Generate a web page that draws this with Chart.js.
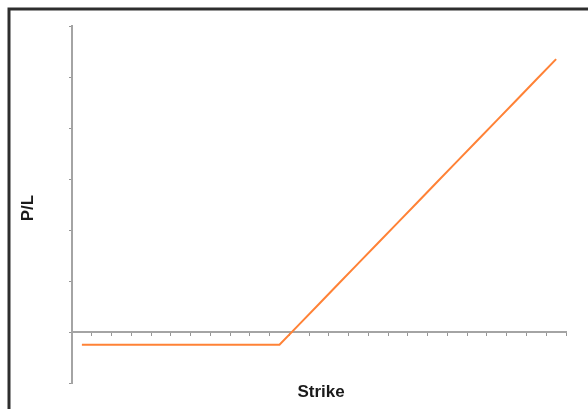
<!DOCTYPE html>
<html>
<head>
<meta charset="utf-8">
<script src="https://cdn.jsdelivr.net/npm/chart.js@4/dist/chart.umd.min.js"></script>
<style>
  html, body { margin: 0; padding: 0; background: #fff; }
  #wrap { position: relative; width: 588px; height: 409px; }
  canvas { display: block; }
</style>
</head>
<body>
<div id="wrap"><canvas id="c" width="588" height="409"></canvas></div>
<script>
// Strike categories (no tick labels are printed in the reference)
const strikes = [1, 2, 3, 4, 5, 6, 7, 8, 9, 10, 11, 12, 13, 14, 15, 16, 17, 18, 19, 20, 21, 22, 23, 24, 25];
// Profit / loss at each strike (long call payoff)
const profitLoss = [-1.25, -1.25, -1.25, -1.25, -1.25, -1.25, -1.25, -1.25, -1.25, -1.25, -1.25,
  0.75, 2.75, 4.75, 6.75, 8.75, 10.75, 12.75, 14.75, 16.75, 18.75, 20.75, 22.75, 24.75, 26.75];
// Value axis tick positions
const yTicks = [-5, 0, 5, 10, 15, 20, 25, 30];

const xTitle = 'Strike';
const yTitle = 'P/L';

const AXIS_COLOR = '#a4a4a4';
const TICK_COLOR = '#969696';
const LINE_COLOR = '#ff8236';
const TEXT_COLOR = '#1a1a1a';
const TITLE_FONT = 'bold 17px "Liberation Sans", Arial, sans-serif';

const framePlugin = {
  id: 'frameAndTitles',
  beforeDraw(chart) {
    const ctx = chart.ctx;
    ctx.save();
    ctx.fillStyle = '#ffffff';
    ctx.fillRect(0, 0, chart.width, chart.height);
    ctx.strokeStyle = '#2e2e2e';
    ctx.lineWidth = 3;
    ctx.beginPath();
    ctx.moveTo(9, chart.height + 5);
    ctx.lineTo(9, 9);
    ctx.lineTo(chart.width + 5, 9);
    ctx.stroke();
    ctx.restore();
  },
  afterDraw(chart) {
    const ctx = chart.ctx;
    const area = chart.chartArea;
    ctx.save();
    ctx.fillStyle = TEXT_COLOR;
    ctx.font = TITLE_FONT;
    ctx.textAlign = 'center';
    ctx.textBaseline = 'alphabetic';
    ctx.fillText(xTitle, (area.left + area.right) / 2 + 2, 396.5);
    ctx.translate(33, 208);
    ctx.rotate(-Math.PI / 2);
    ctx.fillText(yTitle, 0, 0);
    ctx.restore();
  }
};

new Chart(document.getElementById('c'), {
  type: 'line',
  data: {
    labels: strikes,
    datasets: [{
      data: profitLoss,
      borderColor: LINE_COLOR,
      borderWidth: 2,
      pointRadius: 0,
      tension: 0,
      fill: false
    }]
  },
  options: {
    responsive: false,
    devicePixelRatio: 1,
    animation: false,
    events: [],
    layout: { padding: { left: 69, top: 26, right: 22, bottom: 26 } },
    plugins: { legend: { display: false }, tooltip: { enabled: false }, title: { display: false } },
    scales: {
      x: {
        type: 'category',
        position: { y: 0 },
        offset: true,
        ticks: { display: false },
        grid: { offset: true, drawOnChartArea: false, drawTicks: true, tickLength: 3, color: TICK_COLOR, lineWidth: 1 },
        border: { display: true, color: AXIS_COLOR, width: 2 }
      },
      y: {
        position: 'left',
        min: yTicks[0],
        max: yTicks[yTicks.length - 1],
        afterBuildTicks(scale) { scale.ticks = yTicks.map(v => ({ value: v })); },
        afterFit(scale) { scale.width = 3; },
        ticks: { display: false },
        grid: { drawOnChartArea: false, drawTicks: true, tickLength: 3, color: TICK_COLOR, lineWidth: 1 },
        border: { display: true, color: AXIS_COLOR, width: 2 }
      }
    }
  },
  plugins: [framePlugin]
});
</script>
</body>
</html>
